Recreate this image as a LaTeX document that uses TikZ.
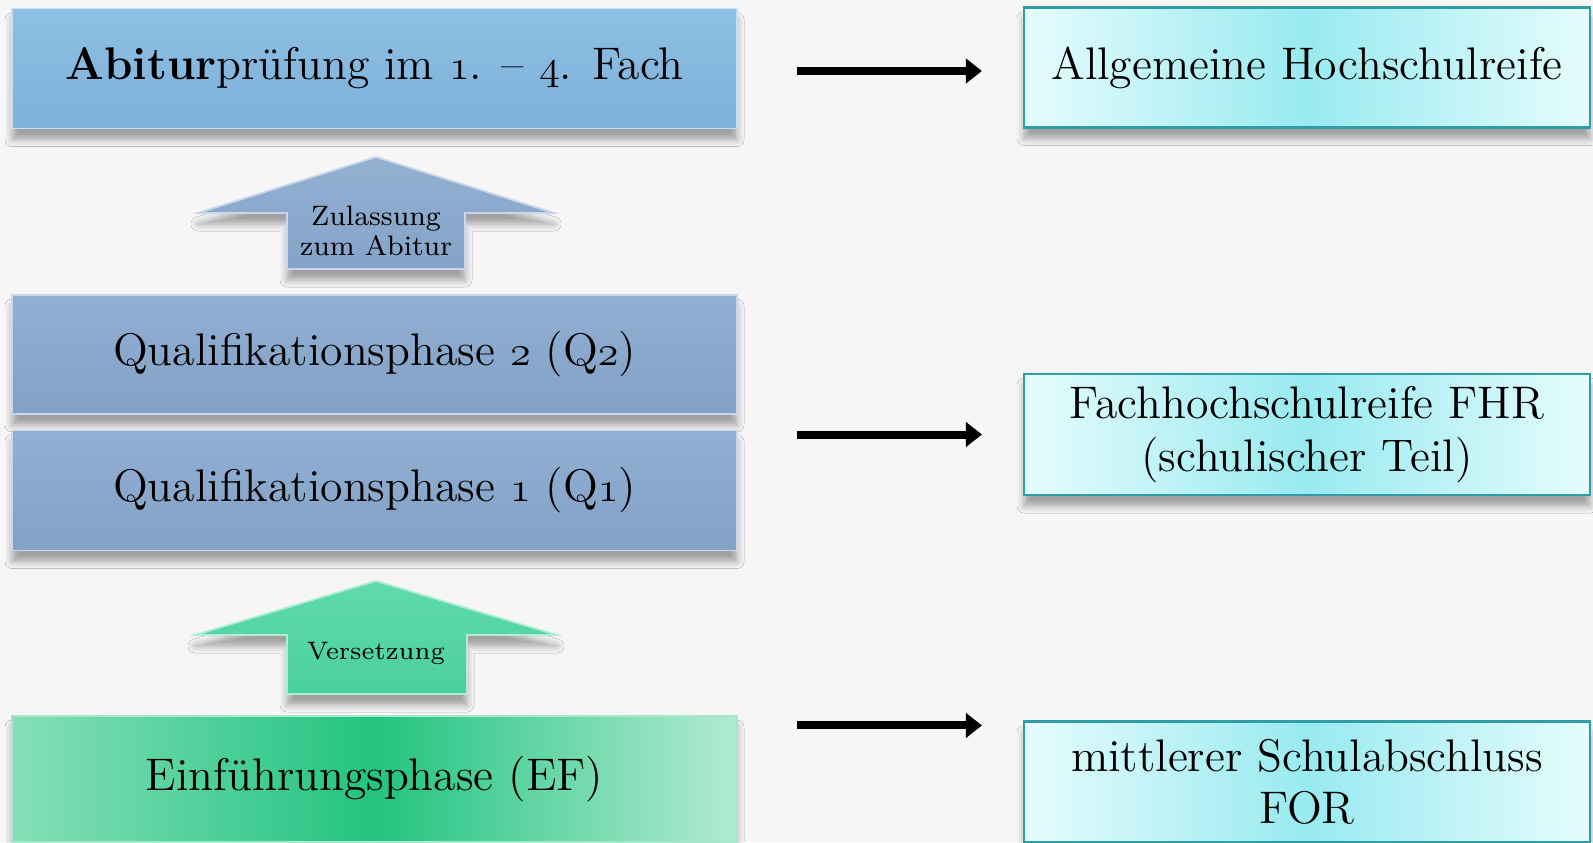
\documentclass[tikz,border=0pt]{standalone}
\usepackage{fontspec}
\usepackage{tikz}
\usetikzlibrary{positioning,calc,arrows.meta,shadows.blur}
\definecolor{abiblue}{HTML}{84B9E2}
\definecolor{qblue}{HTML}{88A8CE}
\definecolor{efmint}{HTML}{22C47F}
\definecolor{versmint}{HTML}{4DD6A2}
\definecolor{degreemid}{HTML}{98EAF0}
\definecolor{degreeedge}{HTML}{E6FCFD}
\definecolor{degreeborder}{HTML}{2E9EA6}
\definecolor{paper}{HTML}{F6F6F6}
\newcommand{\osnum}[1]{{\usefont{OML}{cmm}{m}{it}#1}}
\tikzset{
  softshadow/.style={blur shadow={shadow xshift=0mm,shadow yshift=-1.1mm,shadow blur radius=0.7mm,shadow opacity=35}},
  phase/.style={minimum width=72.5mm,minimum height=12mm,inner sep=0pt,draw=white!55!#1,line width=0.5pt,
    top color=white!8!#1,bottom color=black!4!#1,softshadow,font=\fontsize{13}{15}\selectfont},
  degree/.style={minimum width=56.6mm,minimum height=12mm,inner sep=0pt,draw=degreeborder,line width=0.6pt,
    left color=degreeedge,right color=degreeedge,middle color=degreemid,align=center,softshadow,
    font=\fontsize{13}{15}\selectfont},
  gate/.style={draw=white!55!#1,line width=0.5pt,top color=white!10!#1,bottom color=black!3!#1,softshadow},
  gatetext/.style={align=center,inner sep=0pt},
  resarrow/.style={-{Triangle[length=1.6mm,width=2.4mm]},line width=0.8mm,black}
}
\begin{document}
\begin{tikzpicture}[x=0.1mm,y=-0.1mm]
\useasboundingbox (0,0) rectangle (1593,842);
\fill[paper] (0,0) rectangle (1593,842);
% left column
\node[phase=abiblue] (abi) at (374.5,68.5) {\textbf{Abitur}prüfung im \osnum{1}. – \osnum{4}. Fach};
\node[phase=qblue,minimum height=11.9mm] (q2) at (374.5,354.5) {Qualifikationsphase \osnum{2} (Q\osnum{2})};
\node[phase=qblue] (q1) at (374.5,490.5) {Qualifikationsphase \osnum{1} (Q\osnum{1})};
\node[phase=efmint,minimum height=12.6mm,draw=white!60!efmint,left color=efmint!55!white,right color=efmint!35!white,middle color=efmint] (ef) at (374.5,779) {Einführungsphase (EF)};
% gates
\fill[gate=qblue] (376,157) -- (554,213) -- (465,213) -- (465,269) -- (287,269) -- (287,213) -- (198,213) -- cycle;
\node[gatetext,font=\fontsize{8}{8.6}\selectfont] (zul) at (376,231) {Zulassung\\zum Abitur};
\fill[gate=versmint] (376,581) -- (557,635) -- (467,635) -- (467,694) -- (287,694) -- (287,635) -- (195,635) -- cycle;
\node[gatetext,font=\fontsize{7.2}{8}\selectfont] (vers) at (376,653) {Versetzung};
% right column
\node[degree] (ahr) at (1307,67.5) {Allgemeine Hochschulreife};
\node[degree,minimum height=12.1mm] (fhr) at (1307,434.5) {Fachhochschulreife FHR\\(schulischer Teil)};
\node[degree,minimum height=12.1mm] (for) at (1307,782) {mittlerer Schulabschluss\\FOR};
% arrows
\draw[resarrow] ($(ahr.west)+(-226,3.5)$) -- ($(ahr.west)+(-41,3.5)$);
\draw[resarrow] ($(fhr.west)+(-226,0)$) -- ($(fhr.west)+(-41,0)$);
\draw[resarrow] ($(for.north west)+(-226,5)$) -- ($(for.north west)+(-41,5)$);
\end{tikzpicture}
\end{document}
